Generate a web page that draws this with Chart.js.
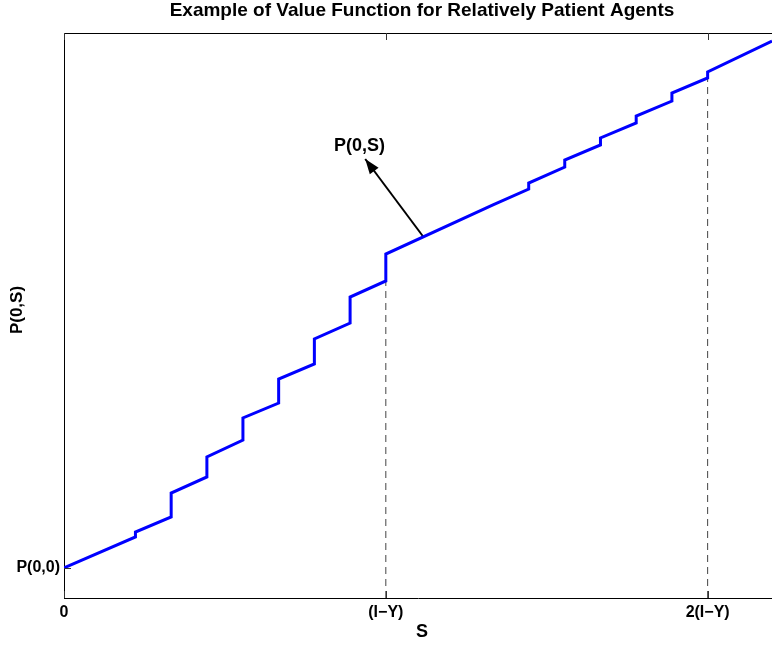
<!DOCTYPE html>
<html>
<head>
<meta charset="utf-8">
<script src="https://cdn.jsdelivr.net/npm/chart.js@4/dist/chart.umd.min.js"></script>
<style>
  html, body { margin: 0; padding: 0; background: #fff; overflow: hidden; }
  #wrap { width: 772px; height: 645px; position: relative; }
</style>
</head>
<body>
<div id="wrap"><canvas id="c" width="772" height="645"></canvas></div>
<script>
// ---- data ----
const titleText = 'Example of Value Function for Relatively Patient Agents';
const xTitle = 'S';
const yTitle = 'P(0,S)';
const curveX = [0, 0.222, 0.222, 0.333, 0.333, 0.444, 0.444, 0.556, 0.556, 0.667, 0.667,
                0.778, 0.778, 0.889, 0.889, 1.0, 1.0, 1.333, 1.444, 1.444, 1.556, 1.556,
                1.667, 1.667, 1.778, 1.778, 1.889, 1.889, 2.0, 2.0, 2.2];
const curveY = [0.531, 1.080, 1.168, 1.434, 1.858, 2.142, 2.496, 2.796, 3.186, 3.451, 3.876,
                4.142, 4.584, 4.867, 5.327, 5.611, 6.088, 6.956, 7.239, 7.345, 7.628, 7.752,
                8.018, 8.142, 8.407, 8.531, 8.796, 8.938, 9.204, 9.310, 9.858];
const guideX = [1, 2];
const guideTopY = [5.611, 9.204];
const xTickValues = [0, 1, 2];
const xTickLabels = ['0', '(I\u2212Y)', '2(I\u2212Y)'];
const yTickValues = [0.531];
const yTickLabels = ['P(0,0)'];
const arrowX = [1.117, 0.936];
const arrowY = [6.389, 7.770];
const arrowLabel = 'P(0,S)';
const arrowLabelPos = [0.918, 8.0];

const FONT = "'Liberation Sans', Arial, Helvetica, sans-serif";

const datasets = [{
  data: curveX.map((x, i) => ({ x: x, y: curveY[i] })),
  showLine: true, borderColor: '#0000ff', borderWidth: 3, pointRadius: 0,
  tension: 0, borderJoinStyle: 'miter', borderCapStyle: 'butt'
}, {
  data: arrowX.map((x, i) => ({ x: x, y: arrowY[i] })),
  showLine: true, borderColor: '#000', borderWidth: 2, pointRadius: 0
}];
guideX.forEach((gx, i) => {
  datasets.push({
    data: [{ x: gx, y: 0 }, { x: gx, y: guideTopY[i] }],
    showLine: true, borderColor: '#444', borderWidth: 1, borderDash: [7, 5], pointRadius: 0
  });
});

const decor = {
  id: 'decor',
  afterDatasetsDraw(chart) {
    const ctx = chart.ctx, a = chart.chartArea;
    const xs = chart.scales.x, ys = chart.scales.y;
    ctx.save();
    // top frame line
    ctx.strokeStyle = '#000'; ctx.lineWidth = 1; ctx.setLineDash([]);
    ctx.beginPath();
    ctx.moveTo(a.left, a.top + 0.5); ctx.lineTo(a.right, a.top + 0.5);
    ctx.stroke();
    // inside tick marks
    ctx.strokeStyle = '#333';
    xTickValues.forEach(v => {
      const px = Math.round(xs.getPixelForValue(v)) + 0.5;
      ctx.beginPath();
      ctx.moveTo(px, a.top); ctx.lineTo(px, a.top + 7);
      ctx.moveTo(px, a.bottom); ctx.lineTo(px, a.bottom - 7);
      ctx.stroke();
    });
    yTickValues.forEach(v => {
      const py = Math.round(ys.getPixelForValue(v)) + 0.5;
      ctx.beginPath();
      ctx.moveTo(a.left, py); ctx.lineTo(a.left + 7, py);
      ctx.stroke();
    });
    // arrow head
    const tx = xs.getPixelForValue(arrowX[0]), ty = ys.getPixelForValue(arrowY[0]);
    const hx = xs.getPixelForValue(arrowX[1]), hy = ys.getPixelForValue(arrowY[1]);
    const ang = Math.atan2(hy - ty, hx - tx);
    const L = 15, W = 5.5;
    ctx.fillStyle = '#000';
    ctx.beginPath();
    ctx.moveTo(hx, hy);
    ctx.lineTo(hx - L * Math.cos(ang) + W * Math.sin(ang), hy - L * Math.sin(ang) - W * Math.cos(ang));
    ctx.lineTo(hx - L * Math.cos(ang) - W * Math.sin(ang), hy - L * Math.sin(ang) + W * Math.cos(ang));
    ctx.closePath(); ctx.fill();
    // arrow label
    ctx.fillStyle = '#000';
    ctx.textAlign = 'center'; ctx.textBaseline = 'middle';
    ctx.font = 'bold 18px ' + FONT;
    ctx.fillText(arrowLabel, xs.getPixelForValue(arrowLabelPos[0]), ys.getPixelForValue(arrowLabelPos[1]));
    // title
    ctx.font = 'bold 19px ' + FONT;
    ctx.textBaseline = 'alphabetic';
    ctx.fillText(titleText, 422, 16);
    // x title
    ctx.font = 'bold 18px ' + FONT;
    ctx.textBaseline = 'middle';
    ctx.fillText(xTitle, 422, 632);
    // y title
    ctx.save();
    ctx.translate(17, 310);
    ctx.rotate(-Math.PI / 2);
    ctx.font = 'bold 17px ' + FONT;
    ctx.fillText(yTitle, 0, 0);
    ctx.restore();
    ctx.restore();
  }
};

new Chart(document.getElementById('c'), {
  type: 'scatter',
  data: { datasets: datasets },
  options: {
    responsive: false, animation: false, devicePixelRatio: 1,
    layout: { padding: { top: 33, right: 0, left: 0, bottom: 0 } },
    plugins: { legend: { display: false }, tooltip: { enabled: false }, title: { display: false } },
    scales: {
      x: {
        type: 'linear', min: 0, max: 2.2,
        afterBuildTicks: s => { s.ticks = xTickValues.map(v => ({ value: v })); },
        afterFit: s => { s.height = 47; },
        ticks: {
          autoSkip: false, maxRotation: 0, padding: 5, color: '#000',
          font: { family: FONT, size: 16, weight: 'bold' },
          callback: (v, i) => xTickLabels[i]
        },
        grid: { display: false, drawTicks: false },
        border: { display: true, color: '#000', width: 1 }
      },
      y: {
        type: 'linear', min: 0, max: 10,
        afterBuildTicks: s => { s.ticks = yTickValues.map(v => ({ value: v })); },
        afterFit: s => { s.width = 64; },
        ticks: {
          autoSkip: false, padding: 4, color: '#000',
          font: { family: FONT, size: 16, weight: 'bold' },
          callback: (v, i) => yTickLabels[i]
        },
        grid: { display: false, drawTicks: false },
        border: { display: true, color: '#000', width: 1 }
      }
    }
  },
  plugins: [decor]
});
</script>
</body>
</html>
